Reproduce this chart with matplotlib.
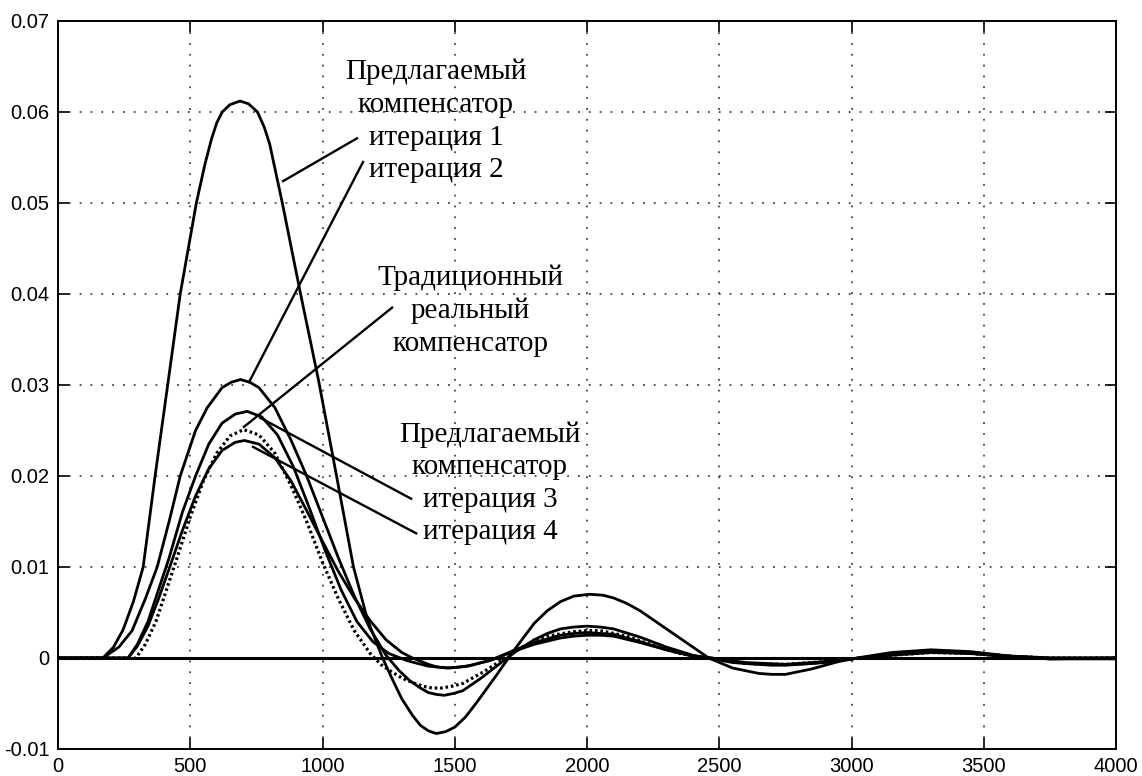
import matplotlib

matplotlib.use("Agg")

import matplotlib.pyplot as plt
import numpy as np

# iteration 1 of the proposed compensator (largest curve)
it1_x = [0, 170, 210, 246, 285, 322, 367, 417, 462, 523, 555, 580, 600, 621, 650, 688,
         720, 754, 780, 800, 848, 917, 985, 1053, 1117, 1170, 1227, 1265, 1300, 1340,
         1370, 1400, 1430, 1465, 1500, 1540, 1580, 1650, 1720, 1800, 1850, 1900, 1950,
         2010, 2060, 2100, 2150, 2200, 2300, 2400, 2460, 2550, 2650, 2700, 2750, 2850,
         2950, 3020, 3150, 3300, 3450, 3600, 3750, 4000]
it1_y = [0, 0, 0.0012, 0.0031, 0.0062, 0.0100, 0.0200, 0.0305, 0.0400, 0.0500, 0.0542,
         0.0570, 0.0588, 0.0600, 0.0608, 0.0612, 0.0609, 0.0600, 0.0583, 0.0565, 0.0500,
         0.0400, 0.0305, 0.0200, 0.0100, 0.0042, 0.0, -0.0024, -0.0045, -0.0063, -0.0074,
         -0.0080, -0.0083, -0.0081, -0.0076, -0.0065, -0.0050, -0.0022, 0.0007, 0.0038,
         0.0052, 0.0062, 0.0068, 0.0070, 0.0069, 0.0066, 0.0060, 0.0052, 0.0032, 0.0012,
         0.0, -0.0011, -0.0017, -0.0018, -0.0018, -0.0012, -0.0004, 0.0, 0.0006, 0.0009,
         0.0007, 0.0002, -0.0001, -0.0001]

# iteration 2
it2_x = [0, 170, 230, 280, 330, 375, 420, 462, 520, 564, 620, 655, 690, 725, 760, 820,
         880, 940, 1000, 1060, 1120, 1180, 1240, 1290, 1330, 1370, 1400, 1430, 1460,
         1495, 1530, 1600, 1680, 1730, 1800, 1850, 1900, 1950, 2000, 2050, 2100, 2200,
         2300, 2400, 2460, 2550, 2700, 2850, 3000, 3150, 3300, 3450, 3600, 3750, 4000]
it2_y = [0, 0, 0.0012, 0.0030, 0.0065, 0.0100, 0.0150, 0.0200, 0.0250, 0.0275, 0.0297,
         0.0303, 0.0306, 0.0303, 0.0297, 0.0275, 0.0240, 0.0200, 0.0155, 0.0110, 0.0068,
         0.0032, 0.0003, -0.0014, -0.0025, -0.0033, -0.0038, -0.0040, -0.0041, -0.0039,
         -0.0036, -0.0022, -0.0004, 0.0007, 0.0020, 0.0027, 0.0032, 0.0034, 0.0035,
         0.0034, 0.0032, 0.0023, 0.0012, 0.0003, 0.0, -0.0005, -0.0008, -0.0006, -0.0001,
         0.0004, 0.0007, 0.0005, 0.0001, -0.0001, 0.0]

# iteration 3
it3_x = [0, 265, 300, 340, 380, 420, 470, 520, 570, 620, 670, 715, 770, 830, 890, 950,
         1010, 1070, 1130, 1190, 1250, 1320, 1400, 1440, 1480, 1520, 1560, 1640, 1720,
         1800, 1900, 1950, 2000, 2050, 2100, 2200, 2300, 2400, 2470, 2600, 2750, 2900,
         3000, 3150, 3300, 3450, 3600, 3750, 4000]
it3_y = [0, 0, 0.0015, 0.0040, 0.0075, 0.0110, 0.0160, 0.0200, 0.0235, 0.0258, 0.0268,
         0.0271, 0.0265, 0.0245, 0.0210, 0.0165, 0.0118, 0.0075, 0.0040, 0.0018, 0.0005,
         -0.0003, -0.0009, -0.0010, -0.0011, -0.0010, -0.0008, -0.0002, 0.0008, 0.0017,
         0.0025, 0.0027, 0.0028, 0.0027, 0.0026, 0.0018, 0.0009, 0.0002, 0.0, -0.0006,
         -0.0008, -0.0005, -0.0001, 0.0004, 0.0007, 0.0006, 0.0002, 0.0, 0.0]

# iteration 4
it4_x = [0, 265, 300, 340, 380, 420, 470, 520, 570, 620, 670, 705, 760, 820, 880, 940,
         1000, 1060, 1120, 1180, 1240, 1300, 1340, 1400, 1435, 1470, 1510, 1550, 1630,
         1720, 1800, 1900, 1950, 2000, 2050, 2100, 2200, 2300, 2400, 2470, 2600, 2750,
         2900, 3000, 3150, 3300, 3450, 3600, 3750, 4000]
it4_y = [0, 0, 0.0013, 0.0035, 0.0065, 0.0098, 0.0140, 0.0178, 0.0208, 0.0228, 0.0237,
         0.0239, 0.0235, 0.0220, 0.0195, 0.0162, 0.0128, 0.0095, 0.0066, 0.0041, 0.0020,
         0.0006, 0.0, -0.0007, -0.0010, -0.0011, -0.0010, -0.0009, -0.0003, 0.0007,
         0.0015, 0.0022, 0.0024, 0.0025, 0.0025, 0.0024, 0.0017, 0.0009, 0.0002, 0.0,
         -0.0005, -0.0007, -0.0004, -0.0001, 0.0003, 0.0006, 0.0005, 0.0002, 0.0, 0.0]

# traditional real compensator (dotted)
trad_x = [0, 295, 330, 370, 410, 450, 500, 550, 600, 650, 702, 760, 820, 880, 940, 1000,
          1060, 1120, 1180, 1220, 1260, 1300, 1340, 1380, 1415, 1450, 1490, 1530, 1610,
          1690, 1760, 1850, 1950, 2000, 2050, 2150, 2250, 2350, 2450, 2600, 2750, 2900,
          3000, 3150, 3300, 3450, 3600, 3750, 4000]
trad_y = [0, 0, 0.0015, 0.0040, 0.0075, 0.0110, 0.0155, 0.0195, 0.0225, 0.0244, 0.0251,
          0.0245, 0.0225, 0.0190, 0.0150, 0.0105, 0.0065, 0.0030, 0.0005, -0.0007,
          -0.0015, -0.0022, -0.0027, -0.0031, -0.0033, -0.0033, -0.0031, -0.0028,
          -0.0015, 0.0, 0.0013, 0.0024, 0.0029, 0.0030, 0.0030, 0.0024, 0.0014, 0.0005,
          0.0, -0.0006, -0.0007, -0.0004, -0.0001, 0.0003, 0.0006, 0.0005, 0.0002, 0.0,
          0.0]

x_ticks = [0, 500, 1000, 1500, 2000, 2500, 3000, 3500, 4000]
y_ticks = [-0.01, 0, 0.01, 0.02, 0.03, 0.04, 0.05, 0.06, 0.07]
y_tick_labels = ["-0.01", "0", "0.01", "0.02", "0.03", "0.04", "0.05", "0.06", "0.07"]

# label blocks: text, centre (data coords)
labels = [
    ("Предлагаемый\nкомпенсатор\nитерация 1\nитерация 2", (1429, 0.0590)),
    ("Традиционный\nреальный\nкомпенсатор", (1558, 0.0382)),
    ("Предлагаемый\nкомпенсатор\nитерация 3\nитерация 4", (1633, 0.0192)),
]
# pointer lines: point on curve -> end near text
pointers = [
    ((851, 0.0524), (1130, 0.0571)),
    ((722, 0.0303), (1153, 0.0545)),
    ((703, 0.0254), (1263, 0.0385)),
    ((764, 0.0264), (1335, 0.0175)),
    ((737, 0.0232), (1354, 0.0137)),
]


def main() -> None:
    fig = plt.figure(figsize=(11.42, 7.76), dpi=100)
    ax = fig.add_axes([0.0508, 0.0348, 0.9265, 0.9382])

    ax.axhline(0, color="black", lw=2.2, zorder=2)
    for xs, ys in [(it1_x, it1_y), (it2_x, it2_y), (it3_x, it3_y), (it4_x, it4_y)]:
        ax.plot(xs, ys, color="black", lw=2.0, solid_joinstyle="round", zorder=3)
    ax.plot(trad_x, trad_y, color="black", lw=2.3, linestyle=(0, (0.8, 0.9)), zorder=3)

    for (x0, y0), (x1, y1) in pointers:
        ax.plot([x0, x1], [y0, y1], color="black", lw=1.7, zorder=4)

    for text, (tx, ty) in labels:
        ax.text(tx, ty, text, ha="center", va="center", family="Liberation Serif",
                fontsize=21, linespacing=1.33, zorder=5)

    ax.set_xlim(0, 4000)
    ax.set_ylim(-0.01, 0.07)
    ax.set_xticks(x_ticks)
    ax.set_yticks(y_ticks)
    ax.set_yticklabels(y_tick_labels)
    ax.grid(True, color="#444444", linestyle=(0, (1, 5)), lw=1.3)
    ax.tick_params(direction="in", length=8, width=1.2, top=True, right=True,
                   labelsize=14.5, pad=6)
    for lab in ax.get_xticklabels() + ax.get_yticklabels():
        lab.set_family("Liberation Sans")
    for sp in ax.spines.values():
        sp.set_linewidth(1.4)

    fig.savefig("out.png", dpi=100)
    plt.close(fig)


if __name__ == "__main__":
    main()
